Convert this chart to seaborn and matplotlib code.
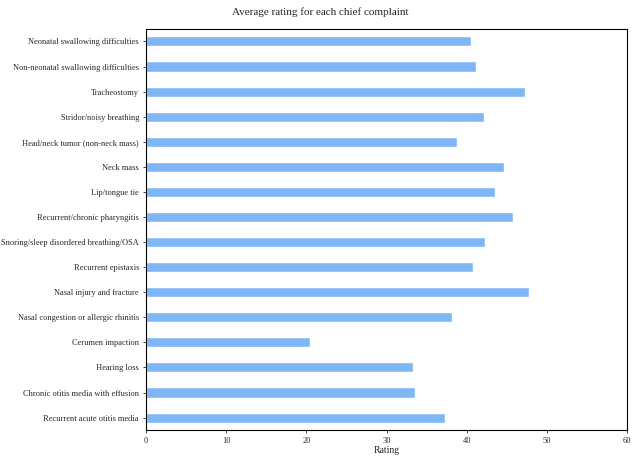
import matplotlib
matplotlib.use("Agg")
import matplotlib.pyplot as plt
import seaborn as sns
import pandas as pd

complaints = [
    "Neonatal swallowing difficulties",
    "Non-neonatal swallowing difficulties",
    "Tracheostomy",
    "Stridor/noisy breathing",
    "Head/neck tumor (non-neck mass)",
    "Neck mass",
    "Lip/tongue tie",
    "Recurrent/chronic pharyngitis",
    "Snoring/sleep disordered breathing/OSA",
    "Recurrent epistaxis",
    "Nasal injury and fracture",
    "Nasal congestion or allergic rhinitis",
    "Cerumen impaction",
    "Hearing loss",
    "Chronic otitis media with effusion",
    "Recurrent acute otitis media",
]
ratings = [40.5, 41.1, 47.3, 42.2, 38.8, 44.6, 43.5, 45.8,
           42.3, 40.8, 47.8, 38.2, 20.5, 33.3, 33.6, 37.3]

df = pd.DataFrame({"Complaint": complaints, "Rating": ratings})

sns.set_style("ticks")
plt.rcParams["font.family"] = ["Liberation Serif", "DejaVu Serif"]

fig = plt.figure(figsize=(6.4, 4.66), dpi=100)
ax = fig.add_axes([0.228, 0.077, 0.752, 0.861])

sns.barplot(data=df, x="Rating", y="Complaint", orient="h",
            color="#7fb6f6", width=0.4, saturation=1, ax=ax)

ax.set_xlim(0, 60)
ax.set_xticks(range(0, 61, 10))
ax.set_xlabel("Rating", fontsize=7, labelpad=1)
ax.set_ylabel("")
fig.suptitle("Average rating for each chief complaint", fontsize=8, x=0.5, y=0.985)
ax.tick_params(axis="both", labelsize=6, length=2.5, width=0.6, pad=2.5)
for s in ax.spines.values():
    s.set_visible(True)
    s.set_linewidth(0.8)
    s.set_color("black")

fig.savefig("out.png", dpi=100)
